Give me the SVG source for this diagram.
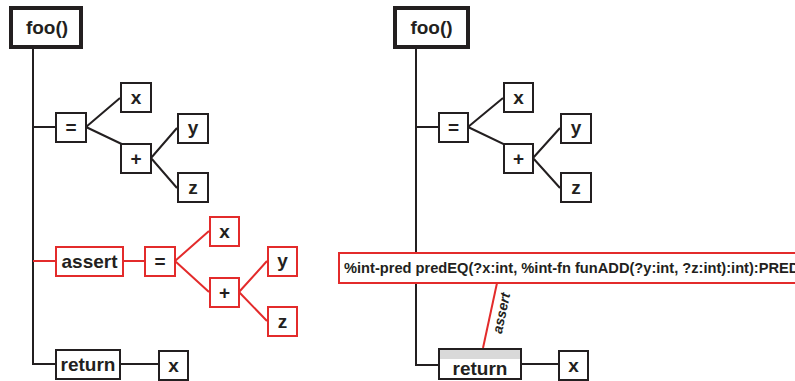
<svg xmlns="http://www.w3.org/2000/svg" width="795" height="381" viewBox="0 0 795 381">
  <style>
    .box { fill: #fff; stroke: #231f20; stroke-width: 2; }
    .rbox { fill: #fff; stroke: #e32b2b; stroke-width: 2; }
    .root { fill: #fff; stroke: #231f20; stroke-width: 4; }
    .ln { stroke: #231f20; stroke-width: 2; fill: none; }
    .rln { stroke: #e32b2b; stroke-width: 2; fill: none; }
    text { font-family: "Liberation Sans", Arial, sans-serif; font-weight: bold; fill: #231f20; text-anchor: middle; }
    .lbl { font-size: 19px; }
    .sym { font-size: 19px; }
    .long { font-size: 14.65px; text-anchor: start; }
    .edge { font-size: 14px; font-style: italic; }
  </style>

  <!-- connectors -->
  <g id="connectors">
    <!-- left tree -->
    <path class="ln" d="M33 49 V364 H55"/>
    <path class="ln" d="M33 127 H55"/>
    <path class="ln" d="M86 127 L120 98 M86 127 L151 158"/>
    <path class="ln" d="M151 158 L177 128 M151 158 L177 188"/>
    <path class="rln" d="M33 261 H55 M123 261 H144"/>
    <path class="rln" d="M175 261 L209 231 M175 261 L209 292"/>
    <path class="rln" d="M239 292 L267 261 M239 292 L267 321"/>
    <path class="ln" d="M120 364 H158"/>
    <!-- right tree -->
    <path class="ln" d="M416 49 V365 H438"/>
    <path class="ln" d="M416 127 H438"/>
    <path class="ln" d="M468 127 L503 98 M468 127 L533 158"/>
    <path class="ln" d="M533 158 L560 128 M533 158 L560 188"/>
    <path class="ln" d="M521 364 H558"/>
    <path class="rln" d="M497 283 L483 348"/>
    <text class="edge" transform="translate(506 314) rotate(-77.8)">assert</text>
  </g>

  <!-- left tree nodes -->
  <g id="l-foo"><rect class="root" x="11" y="8" width="70" height="39"/><text class="lbl" x="47" y="34">foo()</text></g>
  <g id="l-eq"><rect class="box" x="56" y="113" width="30" height="29"/><text class="sym" x="71" y="134">=</text></g>
  <g id="l-x1"><rect class="box" x="121" y="83" width="30" height="29"/><text class="sym" x="136" y="104">x</text></g>
  <g id="l-plus"><rect class="box" x="121" y="144" width="30" height="29"/><text class="sym" x="136" y="165">+</text></g>
  <g id="l-y"><rect class="box" x="178" y="114" width="30" height="29"/><text class="sym" x="193" y="134">y</text></g>
  <g id="l-z"><rect class="box" x="178" y="173" width="30" height="29"/><text class="sym" x="193" y="194">z</text></g>
  <g id="l-assert"><rect class="rbox" x="56" y="247" width="67" height="29"/><text class="lbl" x="89.5" y="268">assert</text></g>
  <g id="l-aeq"><rect class="rbox" x="145" y="247" width="30" height="29"/><text class="sym" x="160" y="268">=</text></g>
  <g id="l-ax"><rect class="rbox" x="210" y="217" width="29" height="29"/><text class="sym" x="224.5" y="238">x</text></g>
  <g id="l-aplus"><rect class="rbox" x="210" y="278" width="29" height="29"/><text class="sym" x="224.5" y="299">+</text></g>
  <g id="l-ay"><rect class="rbox" x="268" y="247" width="29" height="29"/><text class="sym" x="282.5" y="267">y</text></g>
  <g id="l-az"><rect class="rbox" x="268" y="307" width="29" height="29"/><text class="sym" x="282.5" y="328">z</text></g>
  <g id="l-return"><rect class="box" x="56" y="350" width="64" height="29"/><text class="lbl" x="88" y="371">return</text></g>
  <g id="l-rx"><rect class="box" x="159" y="351" width="29" height="29"/><text class="sym" x="173.5" y="372">x</text></g>

  <!-- right tree nodes -->
  <g id="r-foo"><rect class="root" x="395" y="8" width="73" height="39"/><text class="lbl" x="431.5" y="34">foo()</text></g>
  <g id="r-eq"><rect class="box" x="439" y="113" width="29" height="29"/><text class="sym" x="453.5" y="134">=</text></g>
  <g id="r-x1"><rect class="box" x="504" y="83" width="29" height="29"/><text class="sym" x="518.5" y="104">x</text></g>
  <g id="r-plus"><rect class="box" x="504" y="144" width="29" height="29"/><text class="sym" x="518.5" y="165">+</text></g>
  <g id="r-y"><rect class="box" x="561" y="114" width="30" height="29"/><text class="sym" x="576" y="134">y</text></g>
  <g id="r-z"><rect class="box" x="561" y="173" width="30" height="29"/><text class="sym" x="576" y="194">z</text></g>
  <g id="r-pred"><rect class="rbox" x="339" y="253" width="470" height="30"/><text class="long" x="344" y="273">%int-pred predEQ(?x:int, %int-fn funADD(?y:int, ?z:int):int):PRED</text></g>
  <g id="r-return">
    <rect class="box" x="439" y="349" width="82" height="30"/>
    <rect x="440" y="350" width="80" height="9" fill="#d9d9d9"/>
    <text class="lbl" x="480" y="375">return</text>
  </g>
  <g id="r-rx"><rect class="box" x="559" y="351" width="29" height="29"/><text class="sym" x="573.5" y="372">x</text></g>
</svg>
